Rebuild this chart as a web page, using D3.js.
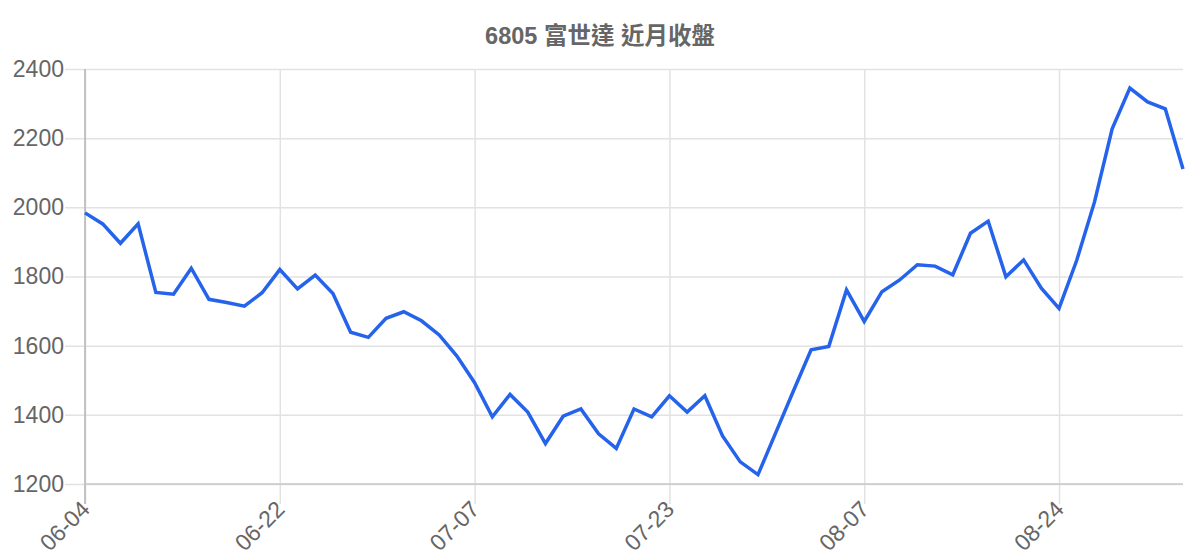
<!DOCTYPE html>
<html lang="zh-Hant">
<head>
<meta charset="utf-8">
<title>6805 富世達 近月收盤</title>
<script src="https://d3js.org/d3.v7.min.js"></script>
<style>
  body { margin: 0; background: #fff; }
  svg { display: block; }
  text { font-family: "Liberation Sans", Arial, "Noto Sans CJK TC", sans-serif; fill: #666; }
</style>
</head>
<body>
<script>
// closing prices, one per trading day
var closes = [
  1984, 1952, 1896, 1952, 1754, 1749, 1824, 1734, 1725, 1714,
  1753, 1820, 1764, 1804, 1751, 1639, 1624, 1679, 1698, 1672,
  1631, 1570, 1493, 1394, 1459, 1408, 1317, 1396, 1417, 1345,
  1303, 1417, 1394, 1455, 1408, 1455, 1339, 1264, 1227, 1348,
  1469, 1588, 1598, 1761, 1670, 1756, 1790, 1834, 1830, 1805,
  1925, 1960, 1799, 1848, 1766, 1708, 1847, 2015, 2227, 2345,
  2305, 2285, 2111
];
var tickLabels = ["06-04", "06-22", "07-07", "07-23", "08-07", "08-24"];
var tickIdx = [0, 11, 22, 33, 44, 55];
var yTicks = [1200, 1400, 1600, 1800, 2000, 2200, 2400];

var W = 1200, H = 560;
var margin = {top: 69, right: 17, bottom: 76, left: 85};
var width = W - margin.left - margin.right,
    height = H - margin.top - margin.bottom;

var svg = d3.select("body").append("svg")
  .attr("width", W)
  .attr("height", H);

// title
svg.append("text")
  .attr("x", W / 2)
  .attr("y", 36)
  .attr("dy", "0.35em")
  .attr("text-anchor", "middle")
  .style("font-size", "23.5px")
  .style("font-weight", "bold")
  .text("6805 富世達 近月收盤");

var g = svg.append("g")
  .attr("transform", "translate(" + margin.left + "," + margin.top + ")");

var x = d3.scaleLinear()
  .domain([0, closes.length - 1])
  .range([0, width]);

var y = d3.scaleLinear()
  .domain([1200, 2400])
  .range([height, 0]);

// horizontal grid + y axis
var yAxis = g.append("g")
  .call(d3.axisLeft(y)
    .tickValues(yTicks)
    .tickFormat(d3.format("d"))
    .tickSize(-width));
yAxis.select(".domain").remove();
yAxis.selectAll(".tick line")
  .attr("x1", -20)
  .attr("stroke", "#e2e2e2")
  .attr("stroke-width", 1.5);
yAxis.selectAll(".tick text")
  .attr("x", -21)
  .style("font-size", "23px")
  .style("font-family", "Liberation Sans, Arial, sans-serif")
  .attr("fill", "#666");

// vertical grid + x axis
var xAxis = g.append("g")
  .attr("transform", "translate(0," + height + ")")
  .call(d3.axisBottom(x)
    .tickValues(tickIdx)
    .tickFormat(function(d, i) { return tickLabels[i]; })
    .tickSize(0));
xAxis.select(".domain").remove();
xAxis.selectAll(".tick line")
  .attr("y1", 20)
  .attr("y2", -height)
  .attr("stroke", "#e2e2e2")
  .attr("stroke-width", 1.5);
xAxis.selectAll(".tick text")
  .attr("x", 0)
  .attr("y", 0)
  .attr("dy", "0.35em")
  .attr("text-anchor", "end")
  .attr("transform", "translate(0,21) rotate(-45)")
  .style("font-size", "23px")
  .style("font-family", "Liberation Sans, Arial, sans-serif")
  .attr("fill", "#666");

// axis lines
g.append("line")
  .attr("x1", 0).attr("x2", 0)
  .attr("y1", 0).attr("y2", height + 20)
  .attr("stroke", "#b4b4b4")
  .attr("stroke-width", 1.5);
g.append("line")
  .attr("x1", 0).attr("x2", width)
  .attr("y1", height).attr("y2", height)
  .attr("stroke", "#c8c8c8")
  .attr("stroke-width", 1.5);

// price line
var line = d3.line()
  .x(function(d, i) { return x(i); })
  .y(function(d) { return y(d); });

g.append("path")
  .datum(closes)
  .attr("d", line)
  .attr("fill", "none")
  .attr("stroke", "#2563eb")
  .attr("stroke-width", 3.5)
  .attr("stroke-linejoin", "miter");
</script>
</body>
</html>
